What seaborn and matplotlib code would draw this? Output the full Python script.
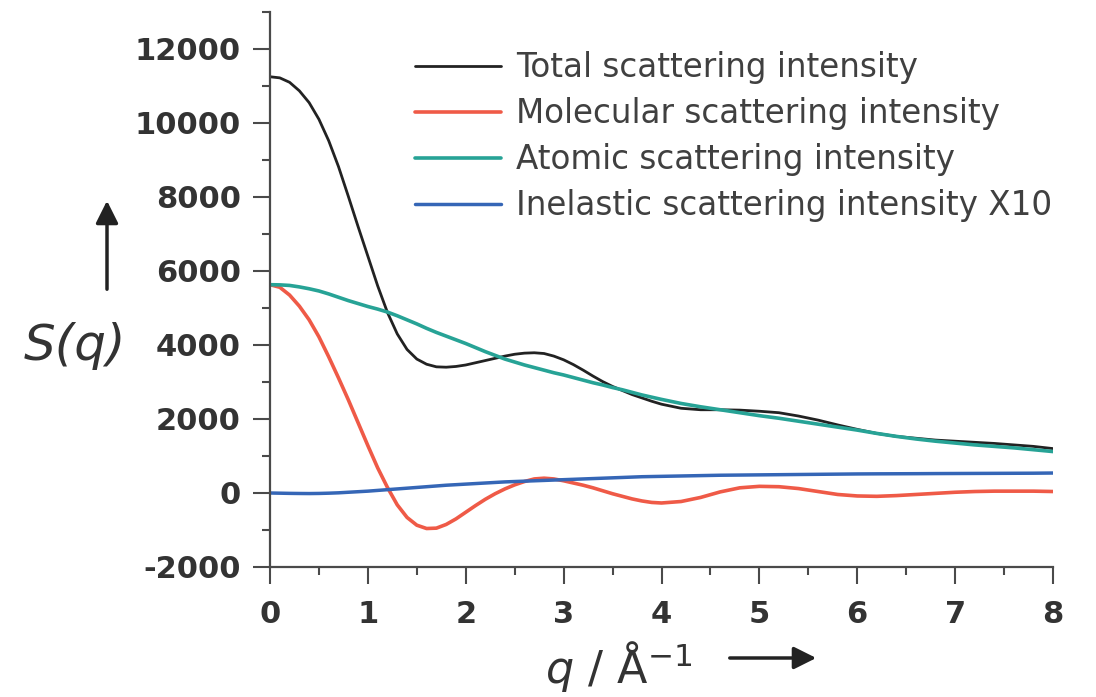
import numpy as np
import pandas as pd
import matplotlib
matplotlib.use("Agg")
import matplotlib.pyplot as plt
import seaborn as sns
from matplotlib.ticker import MultipleLocator

# ---- data ----
q = [0.0, 0.1, 0.2, 0.3, 0.4, 0.5, 0.6, 0.7, 0.8, 0.9,
     1.0, 1.1, 1.2, 1.3, 1.4, 1.5, 1.6, 1.7, 1.8, 1.9,
     2.0, 2.1, 2.2, 2.3, 2.4, 2.5, 2.6, 2.7, 2.8, 2.9,
     3.0, 3.1, 3.2, 3.3, 3.4, 3.5, 3.6, 3.7, 3.8, 3.9,
     4.0, 4.2, 4.4, 4.6, 4.8, 5.0, 5.2, 5.4, 5.6, 5.8,
     6.0, 6.2, 6.4, 6.6, 6.8, 7.0, 7.2, 7.4, 7.6, 7.8, 8.0]

total = [11250, 11220, 11100, 10870, 10550, 10100, 9520, 8820, 8020, 7200,
         6400, 5600, 4880, 4300, 3880, 3620, 3480, 3410, 3400, 3420,
         3460, 3520, 3580, 3640, 3700, 3750, 3780, 3790, 3770, 3700,
         3600, 3470, 3320, 3160, 3010, 2880, 2770, 2660, 2570, 2480,
         2400, 2290, 2250, 2250, 2240, 2210, 2170, 2080, 1970, 1840,
         1720, 1610, 1530, 1480, 1430, 1400, 1370, 1340, 1300, 1260, 1200]

molecular = [5630, 5560, 5350, 5050, 4680, 4220, 3680, 3110, 2520, 1900,
             1280, 680, 150, -320, -660, -870, -960, -950, -850, -700,
             -520, -340, -170, -20, 110, 220, 310, 380, 400, 380,
             330, 270, 210, 140, 60, -20, -90, -160, -215, -255,
             -270, -230, -120, 30, 140, 180, 170, 120, 40, -40,
             -80, -90, -70, -40, -10, 20, 40, 50, 50, 50, 40]

atomic = [5630, 5625, 5610, 5570, 5520, 5460, 5380, 5290, 5200, 5120,
          5040, 4970, 4890, 4790, 4680, 4570, 4450, 4340, 4240, 4140,
          4040, 3930, 3820, 3720, 3620, 3540, 3460, 3390, 3320, 3250,
          3190, 3120, 3050, 2980, 2920, 2850, 2790, 2720, 2650, 2590,
          2530, 2420, 2330, 2250, 2170, 2090, 2020, 1940, 1860, 1780,
          1700, 1610, 1530, 1460, 1400, 1350, 1300, 1260, 1220, 1170, 1120]

inelastic = [0, -5, -10, -13, -15, -12, -5, 5, 20, 35,
             50, 70, 90, 110, 130, 150, 170, 190, 210, 225,
             240, 255, 270, 285, 300, 310, 320, 330, 340, 350,
             360, 370, 380, 390, 400, 410, 420, 430, 440, 445,
             450, 460, 470, 480, 485, 490, 495, 500, 505, 510,
             515, 518, 520, 522, 525, 527, 529, 531, 533, 535, 540]

labels = ["Total scattering intensity", "Molecular scattering intensity",
          "Atomic scattering intensity", "Inelastic scattering intensity X10"]
colors = ["#222222", "#ef5a47", "#27a396", "#3566b6"]
widths = [2.0, 2.6, 2.6, 2.5]

x_ticks = [0, 1, 2, 3, 4, 5, 6, 7, 8]
y_ticks = [-2000, 0, 2000, 4000, 6000, 8000, 10000, 12000]

# ---- figure ----
sns.set_style("ticks")
plt.rcParams["font.family"] = ["DejaVu Sans"]
plt.rcParams["mathtext.fontset"] = "dejavusans"
plt.rcParams["axes.unicode_minus"] = False

W, H = 1096, 697
fig = plt.figure(figsize=(W / 100, H / 100), dpi=100)
ax = fig.add_axes([270 / W, 1 - 567 / H, (1053 - 270) / W, (567 - 12) / H])

series = [total, molecular, atomic, inelastic]
for vals, lab, col, lw in zip(series, labels, colors, widths):
    df = pd.DataFrame({"q": q, "S": vals})
    sns.lineplot(data=df, x="q", y="S", ax=ax, color=col, lw=lw, label=lab,
                 sort=False)

ax.set_xlim(0, 8)
ax.set_ylim(-2000, 13000)
ax.set_xticks(x_ticks)
ax.set_yticks(y_ticks)
ax.xaxis.set_minor_locator(MultipleLocator(0.5))
ax.yaxis.set_minor_locator(MultipleLocator(1000))
ax.set_xlabel("")
ax.set_ylabel("")

for s in ["top", "right"]:
    ax.spines[s].set_visible(False)
for s in ["left", "bottom"]:
    ax.spines[s].set_linewidth(1.6)
    ax.spines[s].set_color("#4a4a4a")

ax.tick_params(axis="both", which="major", length=12, width=1.5,
               color="#4a4a4a", labelsize=22, labelcolor="#333333")
ax.tick_params(axis="both", which="minor", length=6, width=1.5, color="#4a4a4a")
ax.tick_params(axis="y", which="major", pad=9)
ax.tick_params(axis="x", which="major", pad=12)
for t in ax.get_xticklabels() + ax.get_yticklabels():
    t.set_fontweight("bold")

leg = ax.legend(loc="upper left", bbox_to_anchor=(415 / W, 1 - 51 / H),
                bbox_transform=fig.transFigure, frameon=False, fontsize=23.5,
                borderpad=0, borderaxespad=0, handlelength=2.64,
                handletextpad=0.45, labelspacing=0.40)
for t in leg.get_texts():
    t.set_color("#404040")

# axis labels with arrows
fig.text(75 / W, 1 - 346 / H, "S(q)", style="italic", fontsize=36,
         color="#333333", ha="center", va="center")
fig.text(619 / W, 1 - 666 / H, r"$q$ / Å$^{-1}$", fontsize=32,
         color="#333333", ha="center", va="center")

arrow = dict(arrowstyle="-|>", lw=2.5, color="#222222", mutation_scale=34)
ax.annotate("", xy=(107, H - 198), xytext=(107, H - 292),
            xycoords="figure pixels", textcoords="figure pixels",
            arrowprops=arrow, annotation_clip=False)
ax.annotate("", xy=(819, H - 658), xytext=(727, H - 658),
            xycoords="figure pixels", textcoords="figure pixels",
            arrowprops=arrow, annotation_clip=False)

fig.savefig("out.png", dpi=100)
